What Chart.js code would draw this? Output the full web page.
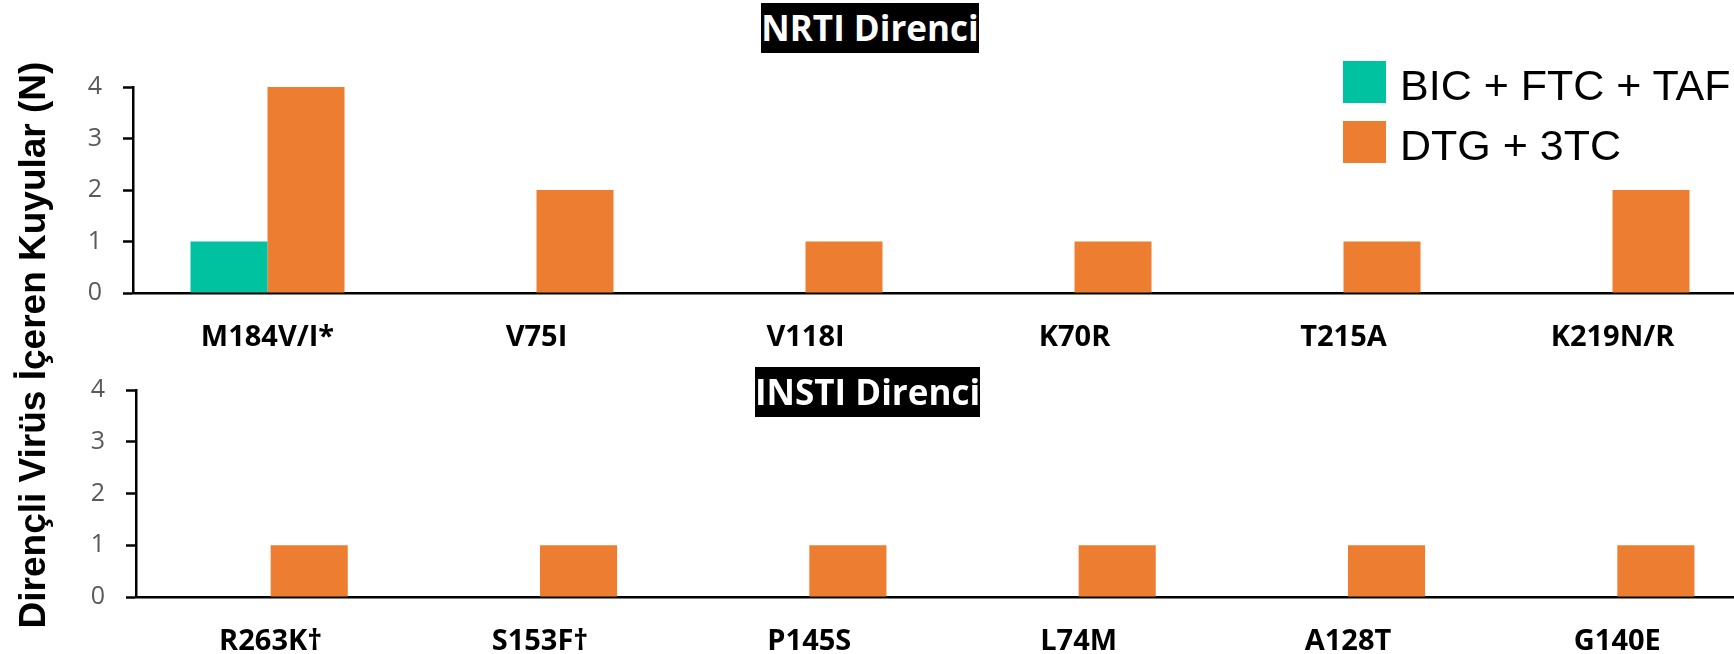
<!DOCTYPE html>
<html>
<head>
<meta charset="utf-8">
<script src="https://cdn.jsdelivr.net/npm/chart.js@4.4.1/dist/chart.umd.min.js"></script>
<style>
  body { margin: 0; background: #fff; }
  #wrap { position: relative; width: 1734px; height: 654px; overflow: hidden; }
  canvas { position: absolute; left: 0; }
  .title {
    position: absolute; background: #000; color: #fff;
    font: bold 35px "Open Sans"; text-align: center;
    height: 50px; line-height: 50px; white-space: nowrap;
  }
  #ytitle {
    position: absolute; width: 660px; height: 42px; line-height: 42px;
    left: -297px; top: 324px; transform: rotate(-90deg);
    font: bold 37px "Liberation Sans"; text-align: center; white-space: nowrap;
  }
  .leg { position: absolute; left: 1343px; height: 42px; }
  .leg span.box { position: absolute; left: 0; top: 0; width: 43px; height: 42px; }
  .leg span.txt {
    position: absolute; left: 57px; top: 0; line-height: 42px;
    font: 43px "Liberation Sans"; white-space: nowrap; color: #000;
  }
</style>
</head>
<body>
<div id="wrap">
  <canvas id="top" width="1747" height="350" style="top:0"></canvas>
  <canvas id="bottom" width="1752" height="304" style="top:350px"></canvas>
  <div class="title" style="left:761px; top:3px; width:218px;">NRTI Direnci</div>
  <div class="title" style="left:755px; top:367px; width:225px;">INSTI Direnci</div>
  <div id="ytitle">Dirençli Virüs İçeren Kuyular (N)</div>
  <div id="legend"></div>
</div>
<script>
const seriesNames = ["BIC + FTC + TAF", "DTG + 3TC"];
const seriesColors = ["#00C1A0", "#ED7D31"];

const nrtiLabels = ["M184V/I*", "V75I", "V118I", "K70R", "T215A", "K219N/R"];
const nrtiBIC = [1, 0, 0, 0, 0, 0];
const nrtiDTG = [4, 2, 1, 1, 1, 2];

const instiLabels = ["R263K†", "S153F†", "P145S", "L74M", "A128T", "G140E"];
const instiBIC = [0, 0, 0, 0, 0, 0];
const instiDTG = [1, 1, 1, 1, 1, 1];

const yTicks = [0, 1, 2, 3, 4];

// legend
const legend = document.getElementById("legend");
seriesNames.forEach((name, i) => {
  const d = document.createElement("div");
  d.className = "leg";
  d.style.top = (61 + i * 60) + "px";
  d.innerHTML = '<span class="box" style="background:' + seriesColors[i] + '"></span><span class="txt">' + name + "</span>";
  legend.appendChild(d);
});

function makeChart(id, labels, bic, dtg, padTop, yWidth) {
  return new Chart(document.getElementById(id), {
    type: "bar",
    data: {
      labels: labels,
      datasets: [
        { label: seriesNames[0], data: bic, backgroundColor: seriesColors[0], borderWidth: 0 },
        { label: seriesNames[1], data: dtg, backgroundColor: seriesColors[1], borderWidth: 0 },
      ],
    },
    options: {
      responsive: false,
      animation: false,
      devicePixelRatio: 1,
      categoryPercentage: 0.5725,
      barPercentage: 1,
      layout: { padding: { top: padTop, left: 0, right: 0, bottom: 0 } },
      plugins: { legend: { display: false }, tooltip: { enabled: false }, title: { display: false } },
      scales: {
        x: {
          grid: { display: false, drawTicks: false },
          border: { display: true, color: "#000", width: 2.5 },
          ticks: {
            color: "#000",
            padding: 27,
            maxRotation: 0,
            autoSkip: false,
            font: { family: "Open Sans", size: 29, weight: "bold" },
          },
          afterFit: (s) => { s.height = 57; },
        },
        y: {
          min: 0,
          max: 4,
          afterBuildTicks: (s) => { s.ticks = yTicks.map((v) => ({ value: v })); },
          grid: { display: true, drawOnChartArea: false, drawTicks: true, tickLength: 10, tickColor: "#000", tickWidth: 2.5 },
          border: { display: true, color: "#000", width: 2.5 },
          ticks: {
            color: "#595959",
            padding: 21,
            font: { family: "Open Sans", size: 25 },
          },
          afterFit: (s) => { s.width = yWidth; },
        },
      },
    },
  });
}

makeChart("top", nrtiLabels, nrtiBIC, nrtiDTG, 87, 133);
makeChart("bottom", instiLabels, instiBIC, instiDTG, 40, 136);
</script>
</body>
</html>
